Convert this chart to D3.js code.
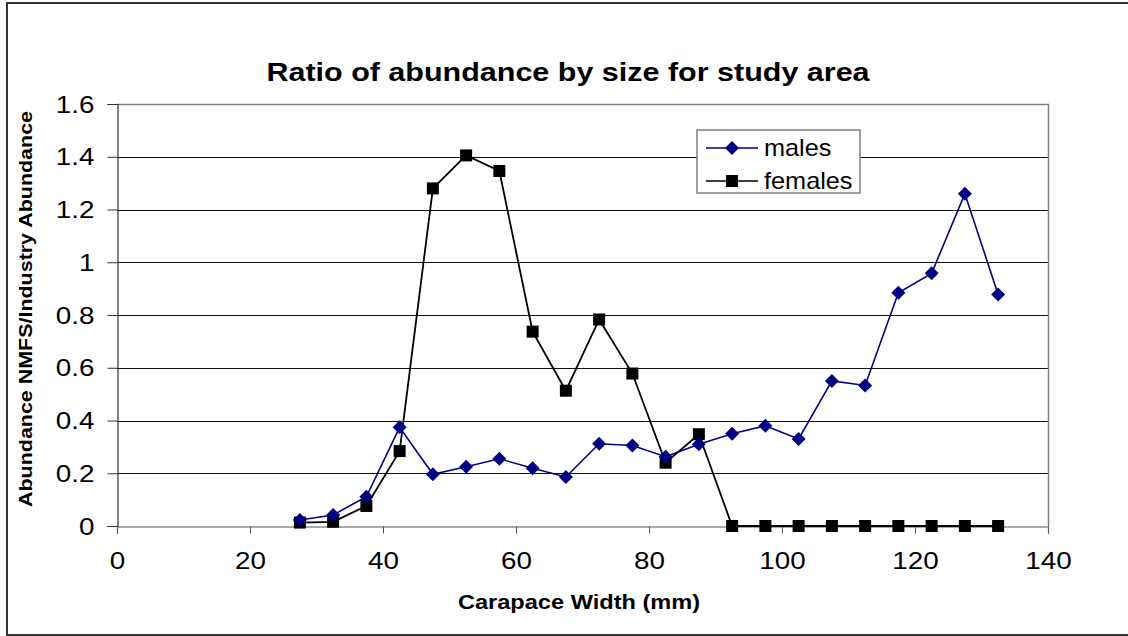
<!DOCTYPE html>
<html><head><meta charset="utf-8">
<script src="https://cdn.jsdelivr.net/npm/d3@7"></script>
<style>body{margin:0;background:#fff}svg{display:block;font-family:"Liberation Sans",Arial,sans-serif}</style>
</head><body><svg id="c" width="1128" height="636"></svg>
<script>
const sizes = [27.5,32.5,37.5,42.5,47.5,52.5,57.5,62.5,67.5,72.5,77.5,82.5,87.5,92.5,97.5,102.5,107.5,112.5,117.5,122.5,127.5,132.5];
const males = [0.023,0.042,0.111,0.374,0.196,0.225,0.255,0.219,0.186,0.312,0.305,0.263,0.31,0.35,0.38,0.33,0.55,0.533,0.884,0.958,1.26,0.878];
const females = [0.013,0.016,0.076,0.284,1.28,1.405,1.346,0.737,0.513,0.783,0.578,0.24,0.348,0,0,0,0,0,0,0,0,0];
const xTicks = [0,20,40,60,80,100,120,140];
const yTicks = [0,0.2,0.4,0.6,0.8,1,1.2,1.4,1.6];
const title = "Ratio of abundance by size for study area";
const xTitle = "Carapace Width (mm)";
const yTitle = "Abundance NMFS/Industry Abundance";

const svg = d3.select("#c");
const L=117, R=1048, T=104, B=526;
const SX = 1.16;
const x = d3.scaleLinear().domain([0,140]).range([L,R]);
const y = d3.scaleLinear().domain([0,1.6]).range([B,T]);

svg.append("rect").attr("x",7).attr("y",3).attr("width",1130).attr("height",632)
  .attr("fill","none").attr("stroke","#333").attr("stroke-width",2);

// gridlines
svg.append("g").selectAll("line").data(yTicks.filter(d=>d>0&&d<1.6)).join("line")
  .attr("x1",L).attr("x2",R).attr("y1",d=>Math.round(y(d))+0.5).attr("y2",d=>Math.round(y(d))+0.5)
  .attr("stroke","#111").attr("stroke-width",1.2);
// plot border top/right
svg.append("path").attr("d",`M${L},${T+0.5}H${R+0.5}V${B}`).attr("fill","none").attr("stroke","#808080").attr("stroke-width",1.5);

const yAxis = d3.axisLeft(y).tickValues(yTicks).tickSize(10).tickFormat(d=>d3.format("")(d));
const gy = svg.append("g").attr("transform",`translate(${L+0.5},0)`).call(yAxis);
gy.select(".domain").attr("stroke","#333").attr("stroke-width",1.2);
gy.selectAll(".tick line").attr("stroke","#333");
gy.selectAll("text").attr("font-size",24).attr("fill","#000").attr("font-family","Liberation Sans, Arial, sans-serif")
  .attr("x",-23/SX).attr("dy","0.34em").attr("transform",`scale(${SX},1)`);

const xAxis = d3.axisBottom(x).tickValues(xTicks).tickSize(7).tickPadding(18);
const gx = svg.append("g").attr("transform",`translate(0,${B+0.5})`).call(xAxis);
gx.select(".domain").attr("stroke","#555").attr("stroke-width",1.2);
gx.selectAll(".tick line").attr("stroke","#555");
gx.selectAll("text").attr("font-size",24).attr("fill","#000").attr("font-family","Liberation Sans, Arial, sans-serif")
  .attr("transform",`scale(${SX},1)`);

// series
const line = d3.line().x((d,i)=>x(sizes[i])).y(d=>y(d));
svg.append("path").datum(females).attr("d",line).attr("fill","none").attr("stroke","#000").attr("stroke-width",1.8);
svg.append("path").datum(males).attr("d",line).attr("fill","none").attr("stroke","#000080").attr("stroke-width",1.6);
svg.append("g").selectAll("rect").data(females).join("rect")
  .attr("x",(d,i)=>x(sizes[i])-6).attr("y",d=>y(d)-6).attr("width",12).attr("height",12).attr("fill","#000");
const diamond = s=>`M0,${-s}L${s},0L0,${s}L${-s},0Z`;
svg.append("g").selectAll("path").data(males).join("path")
  .attr("transform",(d,i)=>`translate(${x(sizes[i])},${y(d)})`).attr("d",diamond(7)).attr("fill","#000080");

// legend
const lg = svg.append("g");
lg.append("rect").attr("x",697).attr("y",130).attr("width",163).attr("height",63).attr("fill","#fff").attr("stroke","#808080").attr("stroke-width",1.5);
lg.append("line").attr("x1",706).attr("x2",758).attr("y1",148).attr("y2",148).attr("stroke","#000080").attr("stroke-width",1.6);
lg.append("path").attr("transform","translate(732,148)").attr("d",diamond(7)).attr("fill","#000080");
lg.append("text").attr("transform","translate(764,156) scale(1.1,1)").attr("font-size",23).text("males");
lg.append("line").attr("x1",706).attr("x2",758).attr("y1",181).attr("y2",181).attr("stroke","#000").attr("stroke-width",1.6);
lg.append("rect").attr("x",726).attr("y",175).attr("width",12).attr("height",12).attr("fill","#000");
lg.append("text").attr("transform","translate(764,189) scale(1.1,1)").attr("font-size",23).text("females");

svg.append("text").attr("transform","translate(568,81) scale(1.22,1)").attr("text-anchor","middle").attr("font-size",25).attr("font-weight","bold").text(title);
svg.append("text").attr("transform","translate(579,609) scale(1.18,1)").attr("text-anchor","middle").attr("font-size",20).attr("font-weight","bold").text(xTitle);
svg.append("text").attr("transform","translate(32,309) rotate(-90)").attr("text-anchor","middle").attr("font-size",19).attr("font-weight","bold")
  .attr("textLength",396).attr("lengthAdjust","spacingAndGlyphs").text(yTitle);
</script></body></html>
